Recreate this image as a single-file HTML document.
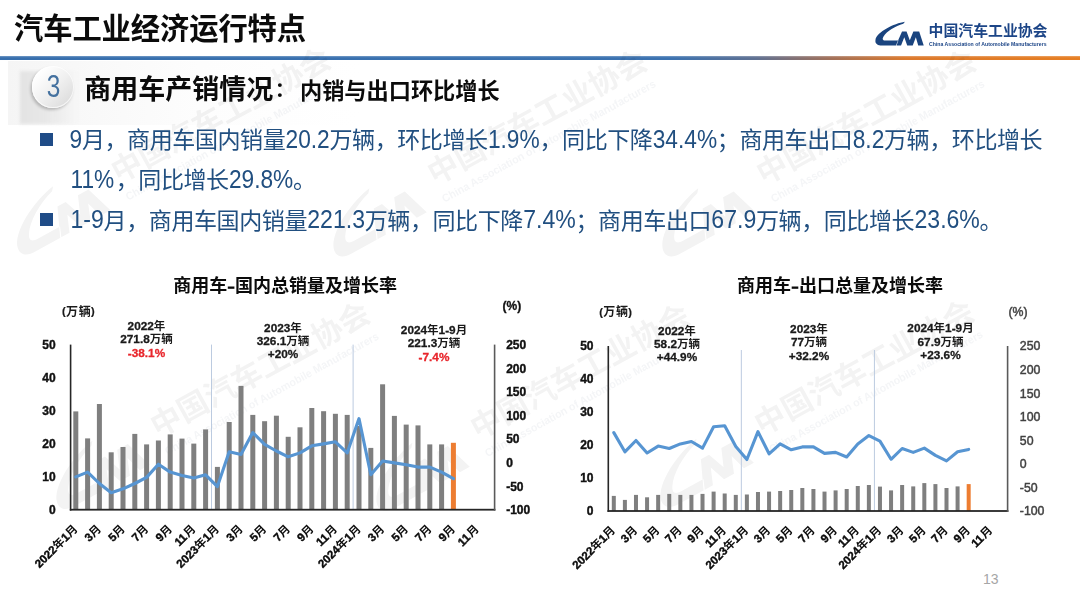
<!DOCTYPE html>
<html lang="zh-CN">
<head>
<meta charset="utf-8">
<title>汽车工业经济运行特点</title>
<style>
html,body{margin:0;padding:0;background:#fff;}
body{width:1080px;height:607px;overflow:hidden;font-family:"Liberation Sans","Noto Sans CJK SC",sans-serif;}
#slide{position:relative;width:1080px;height:607px;overflow:hidden;background:#fff;}
#rule{position:absolute;left:0;top:56px;width:1080px;height:4px;
  background:linear-gradient(to bottom,rgba(255,255,255,.3),rgba(255,255,255,0) 45%),linear-gradient(to right,#376fad 0%,#3b72b0 62%,#5f7091 70%,#a27058 77%,#dc792c 84%,#e67e22 100%);}
#band{position:absolute;left:8px;top:61px;width:640px;height:64px;
  background:linear-gradient(to right,#f5f5f5 0%,#f9f9f9 14%,#fdfdfd 30%,#ffffff 55%);}
#shade{position:absolute;left:20px;top:71px;width:60px;height:53px;
  background:linear-gradient(to right,#e3e3e3 0%,#e8e8e8 45%,rgba(245,245,245,0) 100%);filter:blur(1.4px);}
#num{position:absolute;left:31.8px;top:66.3px;width:42.6px;height:42px;border-radius:50%;
  background:linear-gradient(135deg,#ffffff 15%,#f1f1f1 50%,#d6d6d6 100%);
  box-shadow:-1.5px 2px 3px rgba(0,0,0,.22), inset 0 0 0 1px rgba(255,255,255,.7);
  color:#44719f;font-size:30.5px;line-height:40.5px;text-align:center;}
#num span{display:inline-block;transform:scaleX(.8);}
.bul{position:absolute;left:40.2px;width:12.8px;height:12.8px;background:#1f4c87;}
#pg{position:absolute;left:983px;top:571px;font-size:14px;color:#a6a6a6;line-height:16px;}
svg#ov{position:absolute;left:0;top:0;filter:blur(.55px);}
svg text{font-family:"Liberation Sans","Noto Sans CJK SC",sans-serif;}
</style>
</head>
<body>
<div id="slide">
<div id="band"></div>
<div id="shade"></div>
<div id="rule"></div>
<div id="num"><span>3</span></div>
<div class="bul" style="top:133.2px"></div>
<div class="bul" style="top:213.4px"></div>
<svg id="ov" width="1080" height="607" viewBox="0 0 1080 607">
<defs><g id="wmu" fill="#1c3558"><path fill="#000" transform="translate(868 15) scale(0.06481)" d="M570 105C400 130 140 260 115 385C105 450 160 470 210 470L440 470L470 395L280 395C225 395 215 370 240 330C290 250 420 170 545 135ZM430 470L525 255L595 255L645 390L700 255L790 255L860 470L775 470L738 345L690 470L605 470L560 345L510 470Z"/><g fill="#000"><text x="933.5" y="36" font-size="14.86" font-weight="700">中国汽车工业协会</text></g>
<text x="933.5" y="45.6" font-size="5.4" font-weight="700" textLength="117.5" lengthAdjust="spacingAndGlyphs">China Association of Automobile Manufacturers</text></g></defs><use href="#wmu" opacity=".047" transform="translate(110.6 187.9) rotate(-28.8) scale(2.06) translate(-929 -36)"/><use href="#wmu" opacity=".047" transform="translate(426.9 189.9) rotate(-28.8) scale(2.06) translate(-929 -36)"/><use href="#wmu" opacity=".047" transform="translate(755.8 189.9) rotate(-28.8) scale(2.06) translate(-929 -36)"/><use href="#wmu" opacity=".047" transform="translate(149.9 442.4) rotate(-28.8) scale(2.06) translate(-929 -36)"/><use href="#wmu" opacity=".047" transform="translate(469.9 444.4) rotate(-28.8) scale(2.06) translate(-929 -36)"/><use href="#wmu" opacity=".047" transform="translate(754 440.5) rotate(-28.8) scale(2.06) translate(-929 -36)"/><g fill="#0b0b0b"><text x="14" y="39" font-size="29.3" font-weight="700" letter-spacing="-0.1">汽车工业经济运行特点</text></g>
<path fill="#1a447f" transform="translate(868 15) scale(0.06481)" d="M570 105C400 130 140 260 115 385C105 450 160 470 210 470L440 470L470 395L280 395C225 395 215 370 240 330C290 250 420 170 545 135ZM430 470L525 255L595 255L645 390L700 255L790 255L860 470L775 470L738 345L690 470L605 470L560 345L510 470Z"/><g fill="#1c4587"><text x="928.6" y="36" font-size="14.86" font-weight="700">中国汽车工业协会</text></g>
<text x="929" y="45.6" font-size="5.4" font-weight="700" fill="#1c4587" textLength="117.5" lengthAdjust="spacingAndGlyphs">China Association of Automobile Manufacturers</text>
<g fill="#0b0b0b"><text x="84.3" y="99" font-size="27" font-weight="700">商用车产销情况</text></g>
<g fill="#0b0b0b"><text x="274.8" y="97" font-size="20.5" font-weight="700">：</text></g>
<g fill="#0b0b0b"><text x="300" y="99" font-size="22.2" font-weight="700">内销与出口环比增长</text></g>
<g fill="#214f80"><text x="81.91" y="148.3" font-size="23.05" letter-spacing="-0.45">月，商用车国内销量</text><text x="329.49" y="148.3" font-size="23.05" letter-spacing="-0.45">万辆，环比增长</text><text x="539.45" y="148.3" font-size="23.05" letter-spacing="-0.45">，同比下降</text><text x="716.84" y="148.3" font-size="23.05" letter-spacing="-0.45">；商用车出口</text><text x="884" y="148.3" font-size="23.05" letter-spacing="-0.45">万辆，环比增长</text><text x="69.5" y="148.3" font-size="22.71" transform="matrix(1 0 0 1.1 0 -14.83)">9</text><text x="285.53" y="148.3" font-size="22.71" transform="matrix(1 0 0 1.1 0 -14.83)">20.2</text><text x="487.94" y="148.3" font-size="22.71" transform="matrix(1 0 0 1.1 0 -14.83)">1.9%</text><text x="652.72" y="148.3" font-size="22.71" transform="matrix(1 0 0 1.1 0 -14.83)">34.4%</text><text x="852.72" y="148.3" font-size="22.71" transform="matrix(1 0 0 1.1 0 -14.83)">8.2</text></g>
<g fill="#214f80"><text x="115.7" y="188.3" font-size="23.05" letter-spacing="-0.45">，同比增长</text><text x="293.05" y="188.3" font-size="23.05">。</text><text x="70.5" y="188.3" font-size="22.7" transform="matrix(1 0 0 1.1 0 -18.83)">11%</text><text x="228.93" y="188.3" font-size="22.7" transform="matrix(1 0 0 1.1 0 -18.83)">29.8%</text></g>
<g fill="#214f80"><text x="103.62" y="228.5" font-size="23.05" letter-spacing="-0.45">月，商用车国内销量</text><text x="364.73" y="228.5" font-size="23.05" letter-spacing="-0.45">万辆，同比下降</text><text x="575.5" y="228.5" font-size="23.05" letter-spacing="-0.45">；商用车出口</text><text x="755.99" y="228.5" font-size="23.05" letter-spacing="-0.45">万辆，同比增长</text><text x="979.6" y="228.5" font-size="23.05">。</text><text x="70.5" y="228.5" font-size="23.07" transform="matrix(1 0 0 1.1 0 -22.85)">1-9</text><text x="307.25" y="228.5" font-size="23.07" transform="matrix(1 0 0 1.1 0 -22.85)">221.3</text><text x="523.18" y="228.5" font-size="23.07" transform="matrix(1 0 0 1.1 0 -22.85)">7.4%</text><text x="711.37" y="228.5" font-size="23.07" transform="matrix(1 0 0 1.1 0 -22.85)">67.9</text><text x="914.48" y="228.5" font-size="23.07" transform="matrix(1 0 0 1.1 0 -22.85)">23.6%</text></g>
<g id="chartL"><g fill="#0b0b0b"><text x="173.2" y="291.8" font-size="18" font-weight="700">商用车</text></g>
<rect x="227.8" y="286.5" width="6.6" height="2.3" fill="#0b0b0b"/><g fill="#0b0b0b"><text x="235" y="291.8" font-size="18" font-weight="700">国内总销量及增长率</text></g>
<rect x="211" y="344.6" width="1" height="165.1" fill="#bccbe0"/><rect x="352.6" y="344.6" width="1" height="165.1" fill="#bccbe0"/><rect x="73.3" y="411.4" width="5" height="98.3" fill="#7f7f7f"/><rect x="85.1" y="438.4" width="5" height="71.3" fill="#7f7f7f"/><rect x="96.9" y="404" width="5" height="105.7" fill="#7f7f7f"/><rect x="108.7" y="452.3" width="5" height="57.4" fill="#7f7f7f"/><rect x="120.5" y="447" width="5" height="62.7" fill="#7f7f7f"/><rect x="132.3" y="433.9" width="5" height="75.8" fill="#7f7f7f"/><rect x="144.1" y="444.4" width="5" height="65.3" fill="#7f7f7f"/><rect x="155.9" y="440.5" width="5" height="69.2" fill="#7f7f7f"/><rect x="167.7" y="434.4" width="5" height="75.3" fill="#7f7f7f"/><rect x="179.5" y="438.6" width="5" height="71.1" fill="#7f7f7f"/><rect x="191.3" y="443.6" width="5" height="66.1" fill="#7f7f7f"/><rect x="203.1" y="429.4" width="5" height="80.3" fill="#7f7f7f"/><rect x="214.9" y="466.9" width="5" height="42.8" fill="#7f7f7f"/><rect x="226.7" y="422" width="5" height="87.7" fill="#7f7f7f"/><rect x="238.5" y="385.9" width="5" height="123.8" fill="#7f7f7f"/><rect x="250.3" y="414.9" width="5" height="94.8" fill="#7f7f7f"/><rect x="262.1" y="421.2" width="5" height="88.5" fill="#7f7f7f"/><rect x="273.9" y="415.7" width="5" height="94" fill="#7f7f7f"/><rect x="285.7" y="436.8" width="5" height="72.9" fill="#7f7f7f"/><rect x="297.5" y="427.3" width="5" height="82.4" fill="#7f7f7f"/><rect x="309.3" y="408" width="5" height="101.7" fill="#7f7f7f"/><rect x="321.1" y="411.2" width="5" height="98.5" fill="#7f7f7f"/><rect x="332.9" y="413.8" width="5" height="95.9" fill="#7f7f7f"/><rect x="344.7" y="414.9" width="5" height="94.8" fill="#7f7f7f"/><rect x="356.5" y="426" width="5" height="83.7" fill="#7f7f7f"/><rect x="368.3" y="447.9" width="5" height="61.8" fill="#7f7f7f"/><rect x="380.1" y="384.3" width="5" height="125.4" fill="#7f7f7f"/><rect x="391.9" y="415.9" width="5" height="93.8" fill="#7f7f7f"/><rect x="403.7" y="424.6" width="5" height="85.1" fill="#7f7f7f"/><rect x="415.5" y="425.4" width="5" height="84.3" fill="#7f7f7f"/><rect x="427.3" y="444.4" width="5" height="65.3" fill="#7f7f7f"/><rect x="439.1" y="444.4" width="5" height="65.3" fill="#7f7f7f"/><rect x="450.9" y="442.8" width="5" height="66.9" fill="#ed7d31"/><polyline points="75.8,476.9 87.6,472.1 99.4,483.5 111.2,492.7 123,488.8 134.8,483.5 146.6,477.4 158.4,464.2 170.2,472.1 182,475.6 193.8,478 205.6,474.8 217.4,486.6 229.2,451.8 241,454.5 252.8,432.6 264.6,444.4 276.4,451 288.2,456.8 300,452.9 311.8,445.8 323.6,443.9 335.4,441.8 347.2,452.9 359,418.6 370.8,474.8 382.6,461 394.4,462.9 406.2,464.7 418,467.1 429.8,467.1 441.6,472.1 453.4,478.7" fill="none" stroke="#5795d2" stroke-width="3.1" stroke-linejoin="round" stroke-linecap="round"/><rect x="69.8" y="344.6" width="1.6" height="166" fill="#262626"/><rect x="69.8" y="508.8" width="425.6" height="1.8" fill="#262626"/><rect x="493.8" y="344.6" width="1.6" height="166" fill="#5a5a5a"/><g fill="#111"><text x="42.35" y="349" font-size="12" font-weight="700" stroke="#111" stroke-width="0.4">50</text></g>
<g fill="#111"><text x="42.35" y="382.02" font-size="12" font-weight="700" stroke="#111" stroke-width="0.4">40</text></g>
<g fill="#111"><text x="42.35" y="415.04" font-size="12" font-weight="700" stroke="#111" stroke-width="0.4">30</text></g>
<g fill="#111"><text x="42.35" y="448.06" font-size="12" font-weight="700" stroke="#111" stroke-width="0.4">20</text></g>
<g fill="#111"><text x="42.35" y="481.08" font-size="12" font-weight="700" stroke="#111" stroke-width="0.4">10</text></g>
<g fill="#111"><text x="49.03" y="514.1" font-size="12" font-weight="700" stroke="#111" stroke-width="0.4">0</text></g>
<g fill="#111"><text x="506.2" y="349" font-size="12" font-weight="700" stroke="#111" stroke-width="0.4">250</text></g>
<g fill="#111"><text x="506.2" y="372.59" font-size="12" font-weight="700" stroke="#111" stroke-width="0.4">200</text></g>
<g fill="#111"><text x="506.2" y="396.17" font-size="12" font-weight="700" stroke="#111" stroke-width="0.4">150</text></g>
<g fill="#111"><text x="506.2" y="419.76" font-size="12" font-weight="700" stroke="#111" stroke-width="0.4">100</text></g>
<g fill="#111"><text x="506.2" y="443.34" font-size="12" font-weight="700" stroke="#111" stroke-width="0.4">50</text></g>
<g fill="#111"><text x="506.2" y="466.93" font-size="12" font-weight="700" stroke="#111" stroke-width="0.4">0</text></g>
<g fill="#111"><text x="506.2" y="490.51" font-size="12" font-weight="700" stroke="#111" stroke-width="0.4">-50</text></g>
<g fill="#111"><text x="506.2" y="514.1" font-size="12" font-weight="700" stroke="#111" stroke-width="0.4">-100</text></g>
<g fill="#1a1a1a"><text x="66.01" y="315.9" font-size="12" font-weight="700" letter-spacing="0.7">万辆</text><text x="62" y="315.3" font-size="11" font-weight="700" stroke="#1a1a1a" stroke-width="0.2">(</text><text x="91.06" y="315.3" font-size="11" font-weight="700" stroke="#1a1a1a" stroke-width="0.2">)</text></g>
<g fill="#111"><text x="502.6" y="310.3" font-size="12" font-weight="700" stroke="#111" stroke-width="0.3">(%)</text></g>
<g fill="#0b0b0b" transform="rotate(-45 78.4 529.7)"><text x="49" y="529.7" font-size="11.5" font-weight="700">年</text><text x="66.9" y="529.7" font-size="11.5" font-weight="700">月</text><text x="23.42" y="529.7" font-size="11.5" font-weight="700" stroke="#0b0b0b" stroke-width="0.4">2022</text><text x="60.5" y="529.7" font-size="11.5" font-weight="700" stroke="#0b0b0b" stroke-width="0.4">1</text></g>
<g fill="#0b0b0b" transform="rotate(-45 102 529.7)"><text x="90.5" y="529.7" font-size="11.5" font-weight="700">月</text><text x="84.1" y="529.7" font-size="11.5" font-weight="700" stroke="#0b0b0b" stroke-width="0.4">3</text></g>
<g fill="#0b0b0b" transform="rotate(-45 125.6 529.7)"><text x="114.1" y="529.7" font-size="11.5" font-weight="700">月</text><text x="107.7" y="529.7" font-size="11.5" font-weight="700" stroke="#0b0b0b" stroke-width="0.4">5</text></g>
<g fill="#0b0b0b" transform="rotate(-45 149.2 529.7)"><text x="137.7" y="529.7" font-size="11.5" font-weight="700">月</text><text x="131.3" y="529.7" font-size="11.5" font-weight="700" stroke="#0b0b0b" stroke-width="0.4">7</text></g>
<g fill="#0b0b0b" transform="rotate(-45 172.8 529.7)"><text x="161.3" y="529.7" font-size="11.5" font-weight="700">月</text><text x="154.9" y="529.7" font-size="11.5" font-weight="700" stroke="#0b0b0b" stroke-width="0.4">9</text></g>
<g fill="#0b0b0b" transform="rotate(-45 196.4 529.7)"><text x="184.9" y="529.7" font-size="11.5" font-weight="700">月</text><text x="172.11" y="529.7" font-size="11.5" font-weight="700" stroke="#0b0b0b" stroke-width="0.4">11</text></g>
<g fill="#0b0b0b" transform="rotate(-45 220 529.7)"><text x="190.6" y="529.7" font-size="11.5" font-weight="700">年</text><text x="208.5" y="529.7" font-size="11.5" font-weight="700">月</text><text x="165.02" y="529.7" font-size="11.5" font-weight="700" stroke="#0b0b0b" stroke-width="0.4">2023</text><text x="202.1" y="529.7" font-size="11.5" font-weight="700" stroke="#0b0b0b" stroke-width="0.4">1</text></g>
<g fill="#0b0b0b" transform="rotate(-45 243.6 529.7)"><text x="232.1" y="529.7" font-size="11.5" font-weight="700">月</text><text x="225.7" y="529.7" font-size="11.5" font-weight="700" stroke="#0b0b0b" stroke-width="0.4">3</text></g>
<g fill="#0b0b0b" transform="rotate(-45 267.2 529.7)"><text x="255.7" y="529.7" font-size="11.5" font-weight="700">月</text><text x="249.3" y="529.7" font-size="11.5" font-weight="700" stroke="#0b0b0b" stroke-width="0.4">5</text></g>
<g fill="#0b0b0b" transform="rotate(-45 290.8 529.7)"><text x="279.3" y="529.7" font-size="11.5" font-weight="700">月</text><text x="272.9" y="529.7" font-size="11.5" font-weight="700" stroke="#0b0b0b" stroke-width="0.4">7</text></g>
<g fill="#0b0b0b" transform="rotate(-45 314.4 529.7)"><text x="302.9" y="529.7" font-size="11.5" font-weight="700">月</text><text x="296.5" y="529.7" font-size="11.5" font-weight="700" stroke="#0b0b0b" stroke-width="0.4">9</text></g>
<g fill="#0b0b0b" transform="rotate(-45 338 529.7)"><text x="326.5" y="529.7" font-size="11.5" font-weight="700">月</text><text x="313.71" y="529.7" font-size="11.5" font-weight="700" stroke="#0b0b0b" stroke-width="0.4">11</text></g>
<g fill="#0b0b0b" transform="rotate(-45 361.6 529.7)"><text x="332.2" y="529.7" font-size="11.5" font-weight="700">年</text><text x="350.1" y="529.7" font-size="11.5" font-weight="700">月</text><text x="306.62" y="529.7" font-size="11.5" font-weight="700" stroke="#0b0b0b" stroke-width="0.4">2024</text><text x="343.7" y="529.7" font-size="11.5" font-weight="700" stroke="#0b0b0b" stroke-width="0.4">1</text></g>
<g fill="#0b0b0b" transform="rotate(-45 385.2 529.7)"><text x="373.7" y="529.7" font-size="11.5" font-weight="700">月</text><text x="367.3" y="529.7" font-size="11.5" font-weight="700" stroke="#0b0b0b" stroke-width="0.4">3</text></g>
<g fill="#0b0b0b" transform="rotate(-45 408.8 529.7)"><text x="397.3" y="529.7" font-size="11.5" font-weight="700">月</text><text x="390.9" y="529.7" font-size="11.5" font-weight="700" stroke="#0b0b0b" stroke-width="0.4">5</text></g>
<g fill="#0b0b0b" transform="rotate(-45 432.4 529.7)"><text x="420.9" y="529.7" font-size="11.5" font-weight="700">月</text><text x="414.5" y="529.7" font-size="11.5" font-weight="700" stroke="#0b0b0b" stroke-width="0.4">7</text></g>
<g fill="#0b0b0b" transform="rotate(-45 456 529.7)"><text x="444.5" y="529.7" font-size="11.5" font-weight="700">月</text><text x="438.1" y="529.7" font-size="11.5" font-weight="700" stroke="#0b0b0b" stroke-width="0.4">9</text></g>
<g fill="#0b0b0b" transform="rotate(-45 479.6 529.7)"><text x="468.1" y="529.7" font-size="11.5" font-weight="700">月</text><text x="455.31" y="529.7" font-size="11.5" font-weight="700" stroke="#0b0b0b" stroke-width="0.4">11</text></g>
<g fill="#1a1a1a"><text x="153.87" y="330.1" font-size="11.5" font-weight="700">年</text><text x="127.62" y="330.1" font-size="11.8" font-weight="700" stroke="#1a1a1a" stroke-width="0.3">2022</text></g>
<g fill="#1a1a1a"><text x="149.77" y="343.1" font-size="11.5" font-weight="700">万辆</text><text x="120.24" y="343.1" font-size="11.8" font-weight="700" stroke="#1a1a1a" stroke-width="0.3">271.8</text></g>
<g fill="#e8262c"><text x="127.81" y="356.5" font-size="11.8" font-weight="700" stroke="#e8262c" stroke-width="0.3">-38.1%</text></g>
<g fill="#1a1a1a"><text x="290.37" y="331.5" font-size="11.5" font-weight="700">年</text><text x="264.12" y="331.5" font-size="11.8" font-weight="700" stroke="#1a1a1a" stroke-width="0.3">2023</text></g>
<g fill="#1a1a1a"><text x="286.27" y="344.8" font-size="11.5" font-weight="700">万辆</text><text x="256.74" y="344.8" font-size="11.8" font-weight="700" stroke="#1a1a1a" stroke-width="0.3">326.1</text></g>
<g fill="#1a1a1a"><text x="267.75" y="358.1" font-size="11.8" font-weight="700" stroke="#1a1a1a" stroke-width="0.3">+20%</text></g>
<g fill="#1a1a1a"><text x="427.1" y="333.7" font-size="11.5" font-weight="700">年</text><text x="455.66" y="333.7" font-size="11.5" font-weight="700">月</text><text x="400.85" y="333.7" font-size="11.8" font-weight="700" stroke="#1a1a1a" stroke-width="0.3">2024</text><text x="438.6" y="333.7" font-size="11.8" font-weight="700" stroke="#1a1a1a" stroke-width="0.3">1-9</text></g>
<g fill="#1a1a1a"><text x="437.27" y="346.6" font-size="11.5" font-weight="700">万辆</text><text x="407.74" y="346.6" font-size="11.8" font-weight="700" stroke="#1a1a1a" stroke-width="0.3">221.3</text></g>
<g fill="#e8262c"><text x="418.59" y="360.5" font-size="11.8" font-weight="700" stroke="#e8262c" stroke-width="0.3">-7.4%</text></g>
</g><g id="chartR"><g fill="#0b0b0b"><text x="737.1" y="291.8" font-size="18" font-weight="700">商用车</text></g>
<rect x="791.7" y="286.5" width="6.6" height="2.3" fill="#0b0b0b"/><g fill="#0b0b0b"><text x="798.9" y="291.8" font-size="18" font-weight="700">出口总量及增长率</text></g>
<rect x="740.83" y="350" width="1" height="161" fill="#bccbe0"/><rect x="873.91" y="350" width="1" height="161" fill="#bccbe0"/><rect x="611.8" y="495.9" width="4" height="15.1" fill="#7f7f7f"/><rect x="622.89" y="499.9" width="4" height="11.1" fill="#7f7f7f"/><rect x="633.98" y="494.9" width="4" height="16.1" fill="#7f7f7f"/><rect x="645.07" y="497.3" width="4" height="13.7" fill="#7f7f7f"/><rect x="656.16" y="494.9" width="4" height="16.1" fill="#7f7f7f"/><rect x="667.25" y="493.9" width="4" height="17.1" fill="#7f7f7f"/><rect x="678.34" y="494.9" width="4" height="16.1" fill="#7f7f7f"/><rect x="689.43" y="494.9" width="4" height="16.1" fill="#7f7f7f"/><rect x="700.52" y="493.9" width="4" height="17.1" fill="#7f7f7f"/><rect x="711.61" y="491.6" width="4" height="19.4" fill="#7f7f7f"/><rect x="722.7" y="493.5" width="4" height="17.5" fill="#7f7f7f"/><rect x="733.79" y="494.9" width="4" height="16.1" fill="#7f7f7f"/><rect x="744.88" y="494.5" width="4" height="16.5" fill="#7f7f7f"/><rect x="755.97" y="492" width="4" height="19" fill="#7f7f7f"/><rect x="767.06" y="491.6" width="4" height="19.4" fill="#7f7f7f"/><rect x="778.15" y="491" width="4" height="20" fill="#7f7f7f"/><rect x="789.24" y="490" width="4" height="21" fill="#7f7f7f"/><rect x="800.33" y="488" width="4" height="23" fill="#7f7f7f"/><rect x="811.42" y="489" width="4" height="22" fill="#7f7f7f"/><rect x="822.51" y="491.6" width="4" height="19.4" fill="#7f7f7f"/><rect x="833.6" y="490.4" width="4" height="20.6" fill="#7f7f7f"/><rect x="844.69" y="489" width="4" height="22" fill="#7f7f7f"/><rect x="855.78" y="486" width="4" height="25" fill="#7f7f7f"/><rect x="866.87" y="485" width="4" height="26" fill="#7f7f7f"/><rect x="877.96" y="486.6" width="4" height="24.4" fill="#7f7f7f"/><rect x="889.05" y="490.4" width="4" height="20.6" fill="#7f7f7f"/><rect x="900.14" y="485" width="4" height="26" fill="#7f7f7f"/><rect x="911.23" y="486.4" width="4" height="24.6" fill="#7f7f7f"/><rect x="922.32" y="483.1" width="4" height="27.9" fill="#7f7f7f"/><rect x="933.41" y="484.1" width="4" height="26.9" fill="#7f7f7f"/><rect x="944.5" y="488" width="4" height="23" fill="#7f7f7f"/><rect x="955.59" y="486.4" width="4" height="24.6" fill="#7f7f7f"/><rect x="966.68" y="484.1" width="4" height="26.9" fill="#ed7d31"/><polyline points="613.8,432.6 624.89,451.8 635.98,440.5 647.07,453 658.16,446.1 669.25,448.5 680.34,443.9 691.43,441.5 702.52,448.1 713.61,426.7 724.7,425.7 735.79,446.5 746.88,459.5 757.97,431.6 769.06,453.8 780.15,443.9 791.24,449.8 802.33,446.9 813.42,446.9 824.51,453.4 835.6,452.4 846.69,457 857.78,443.9 868.87,435.6 879.96,441.1 891.05,459.3 902.14,448.5 913.23,452.4 924.32,448.1 935.41,455.4 946.5,460.9 957.59,451.8 968.68,449.4" fill="none" stroke="#5795d2" stroke-width="3.1" stroke-linejoin="round" stroke-linecap="round"/><rect x="607.5" y="346" width="1.6" height="165.9" fill="#262626"/><rect x="607.5" y="510.1" width="400.9" height="1.8" fill="#262626"/><rect x="1006.8" y="346" width="1.6" height="165.9" fill="#5a5a5a"/><g fill="#111"><text x="580.15" y="350.4" font-size="12" font-weight="700" stroke="#111" stroke-width="0.4">50</text></g>
<g fill="#111"><text x="580.15" y="383.4" font-size="12" font-weight="700" stroke="#111" stroke-width="0.4">40</text></g>
<g fill="#111"><text x="580.15" y="416.4" font-size="12" font-weight="700" stroke="#111" stroke-width="0.4">30</text></g>
<g fill="#111"><text x="580.15" y="449.4" font-size="12" font-weight="700" stroke="#111" stroke-width="0.4">20</text></g>
<g fill="#111"><text x="580.15" y="482.4" font-size="12" font-weight="700" stroke="#111" stroke-width="0.4">10</text></g>
<g fill="#111"><text x="586.83" y="515.4" font-size="12" font-weight="700" stroke="#111" stroke-width="0.4">0</text></g>
<g fill="#404040"><text x="1019.8" y="350.4" font-size="12.3" stroke="#404040" stroke-width="0.45">250</text></g>
<g fill="#404040"><text x="1019.8" y="373.97" font-size="12.3" stroke="#404040" stroke-width="0.45">200</text></g>
<g fill="#404040"><text x="1019.8" y="397.54" font-size="12.3" stroke="#404040" stroke-width="0.45">150</text></g>
<g fill="#404040"><text x="1019.8" y="421.11" font-size="12.3" stroke="#404040" stroke-width="0.45">100</text></g>
<g fill="#404040"><text x="1019.8" y="444.69" font-size="12.3" stroke="#404040" stroke-width="0.45">50</text></g>
<g fill="#404040"><text x="1019.8" y="468.26" font-size="12.3" stroke="#404040" stroke-width="0.45">0</text></g>
<g fill="#404040"><text x="1019.8" y="491.83" font-size="12.3" stroke="#404040" stroke-width="0.45">-50</text></g>
<g fill="#404040"><text x="1019.8" y="515.4" font-size="12.3" stroke="#404040" stroke-width="0.45">-100</text></g>
<g fill="#1a1a1a"><text x="603.21" y="316.2" font-size="12" font-weight="700" letter-spacing="0.7">万辆</text><text x="599.2" y="315.6" font-size="11" font-weight="700" stroke="#1a1a1a" stroke-width="0.2">(</text><text x="628.26" y="315.6" font-size="11" font-weight="700" stroke="#1a1a1a" stroke-width="0.2">)</text></g>
<g fill="#404040"><text x="1008.5" y="316.1" font-size="12.3" stroke="#404040" stroke-width="0.45">(%)</text></g>
<g fill="#0b0b0b" transform="rotate(-45 616 530.8)"><text x="586.6" y="530.8" font-size="11.5" font-weight="700">年</text><text x="604.5" y="530.8" font-size="11.5" font-weight="700">月</text><text x="561.02" y="530.8" font-size="11.5" font-weight="700" stroke="#0b0b0b" stroke-width="0.4">2022</text><text x="598.1" y="530.8" font-size="11.5" font-weight="700" stroke="#0b0b0b" stroke-width="0.4">1</text></g>
<g fill="#0b0b0b" transform="rotate(-45 638.18 530.8)"><text x="626.68" y="530.8" font-size="11.5" font-weight="700">月</text><text x="620.28" y="530.8" font-size="11.5" font-weight="700" stroke="#0b0b0b" stroke-width="0.4">3</text></g>
<g fill="#0b0b0b" transform="rotate(-45 660.36 530.8)"><text x="648.86" y="530.8" font-size="11.5" font-weight="700">月</text><text x="642.46" y="530.8" font-size="11.5" font-weight="700" stroke="#0b0b0b" stroke-width="0.4">5</text></g>
<g fill="#0b0b0b" transform="rotate(-45 682.54 530.8)"><text x="671.04" y="530.8" font-size="11.5" font-weight="700">月</text><text x="664.64" y="530.8" font-size="11.5" font-weight="700" stroke="#0b0b0b" stroke-width="0.4">7</text></g>
<g fill="#0b0b0b" transform="rotate(-45 704.72 530.8)"><text x="693.22" y="530.8" font-size="11.5" font-weight="700">月</text><text x="686.82" y="530.8" font-size="11.5" font-weight="700" stroke="#0b0b0b" stroke-width="0.4">9</text></g>
<g fill="#0b0b0b" transform="rotate(-45 726.9 530.8)"><text x="715.4" y="530.8" font-size="11.5" font-weight="700">月</text><text x="702.61" y="530.8" font-size="11.5" font-weight="700" stroke="#0b0b0b" stroke-width="0.4">11</text></g>
<g fill="#0b0b0b" transform="rotate(-45 749.08 530.8)"><text x="719.68" y="530.8" font-size="11.5" font-weight="700">年</text><text x="737.58" y="530.8" font-size="11.5" font-weight="700">月</text><text x="694.1" y="530.8" font-size="11.5" font-weight="700" stroke="#0b0b0b" stroke-width="0.4">2023</text><text x="731.18" y="530.8" font-size="11.5" font-weight="700" stroke="#0b0b0b" stroke-width="0.4">1</text></g>
<g fill="#0b0b0b" transform="rotate(-45 771.26 530.8)"><text x="759.76" y="530.8" font-size="11.5" font-weight="700">月</text><text x="753.36" y="530.8" font-size="11.5" font-weight="700" stroke="#0b0b0b" stroke-width="0.4">3</text></g>
<g fill="#0b0b0b" transform="rotate(-45 793.44 530.8)"><text x="781.94" y="530.8" font-size="11.5" font-weight="700">月</text><text x="775.54" y="530.8" font-size="11.5" font-weight="700" stroke="#0b0b0b" stroke-width="0.4">5</text></g>
<g fill="#0b0b0b" transform="rotate(-45 815.62 530.8)"><text x="804.12" y="530.8" font-size="11.5" font-weight="700">月</text><text x="797.72" y="530.8" font-size="11.5" font-weight="700" stroke="#0b0b0b" stroke-width="0.4">7</text></g>
<g fill="#0b0b0b" transform="rotate(-45 837.8 530.8)"><text x="826.3" y="530.8" font-size="11.5" font-weight="700">月</text><text x="819.9" y="530.8" font-size="11.5" font-weight="700" stroke="#0b0b0b" stroke-width="0.4">9</text></g>
<g fill="#0b0b0b" transform="rotate(-45 859.98 530.8)"><text x="848.48" y="530.8" font-size="11.5" font-weight="700">月</text><text x="835.69" y="530.8" font-size="11.5" font-weight="700" stroke="#0b0b0b" stroke-width="0.4">11</text></g>
<g fill="#0b0b0b" transform="rotate(-45 882.16 530.8)"><text x="852.76" y="530.8" font-size="11.5" font-weight="700">年</text><text x="870.66" y="530.8" font-size="11.5" font-weight="700">月</text><text x="827.18" y="530.8" font-size="11.5" font-weight="700" stroke="#0b0b0b" stroke-width="0.4">2024</text><text x="864.26" y="530.8" font-size="11.5" font-weight="700" stroke="#0b0b0b" stroke-width="0.4">1</text></g>
<g fill="#0b0b0b" transform="rotate(-45 904.34 530.8)"><text x="892.84" y="530.8" font-size="11.5" font-weight="700">月</text><text x="886.44" y="530.8" font-size="11.5" font-weight="700" stroke="#0b0b0b" stroke-width="0.4">3</text></g>
<g fill="#0b0b0b" transform="rotate(-45 926.52 530.8)"><text x="915.02" y="530.8" font-size="11.5" font-weight="700">月</text><text x="908.62" y="530.8" font-size="11.5" font-weight="700" stroke="#0b0b0b" stroke-width="0.4">5</text></g>
<g fill="#0b0b0b" transform="rotate(-45 948.7 530.8)"><text x="937.2" y="530.8" font-size="11.5" font-weight="700">月</text><text x="930.8" y="530.8" font-size="11.5" font-weight="700" stroke="#0b0b0b" stroke-width="0.4">7</text></g>
<g fill="#0b0b0b" transform="rotate(-45 970.88 530.8)"><text x="959.38" y="530.8" font-size="11.5" font-weight="700">月</text><text x="952.98" y="530.8" font-size="11.5" font-weight="700" stroke="#0b0b0b" stroke-width="0.4">9</text></g>
<g fill="#0b0b0b" transform="rotate(-45 993.06 530.8)"><text x="981.56" y="530.8" font-size="11.5" font-weight="700">月</text><text x="968.77" y="530.8" font-size="11.5" font-weight="700" stroke="#0b0b0b" stroke-width="0.4">11</text></g>
<g fill="#1a1a1a"><text x="684.37" y="335.1" font-size="11.5" font-weight="700">年</text><text x="658.12" y="335.1" font-size="11.8" font-weight="700" stroke="#1a1a1a" stroke-width="0.3">2022</text></g>
<g fill="#1a1a1a"><text x="676.99" y="348" font-size="11.5" font-weight="700">万辆</text><text x="654.02" y="348" font-size="11.8" font-weight="700" stroke="#1a1a1a" stroke-width="0.3">58.2</text></g>
<g fill="#1a1a1a"><text x="656.83" y="360.8" font-size="11.8" font-weight="700" stroke="#1a1a1a" stroke-width="0.3">+44.9%</text></g>
<g fill="#1a1a1a"><text x="816.37" y="333.4" font-size="11.5" font-weight="700">年</text><text x="790.12" y="333.4" font-size="11.8" font-weight="700" stroke="#1a1a1a" stroke-width="0.3">2023</text></g>
<g fill="#1a1a1a"><text x="804.07" y="345.8" font-size="11.5" font-weight="700">万辆</text><text x="790.94" y="345.8" font-size="11.8" font-weight="700" stroke="#1a1a1a" stroke-width="0.3">77</text></g>
<g fill="#1a1a1a"><text x="788.83" y="360.1" font-size="11.8" font-weight="700" stroke="#1a1a1a" stroke-width="0.3">+32.2%</text></g>
<g fill="#1a1a1a"><text x="933.6" y="331.5" font-size="11.5" font-weight="700">年</text><text x="962.16" y="331.5" font-size="11.5" font-weight="700">月</text><text x="907.35" y="331.5" font-size="11.8" font-weight="700" stroke="#1a1a1a" stroke-width="0.3">2024</text><text x="945.1" y="331.5" font-size="11.8" font-weight="700" stroke="#1a1a1a" stroke-width="0.3">1-9</text></g>
<g fill="#1a1a1a"><text x="940.49" y="345.9" font-size="11.5" font-weight="700">万辆</text><text x="917.52" y="345.9" font-size="11.8" font-weight="700" stroke="#1a1a1a" stroke-width="0.3">67.9</text></g>
<g fill="#1a1a1a"><text x="920.33" y="359.4" font-size="11.8" font-weight="700" stroke="#1a1a1a" stroke-width="0.3">+23.6%</text></g>
</g></svg>
<div id="pg">13</div>
</div>
</body>
</html>
